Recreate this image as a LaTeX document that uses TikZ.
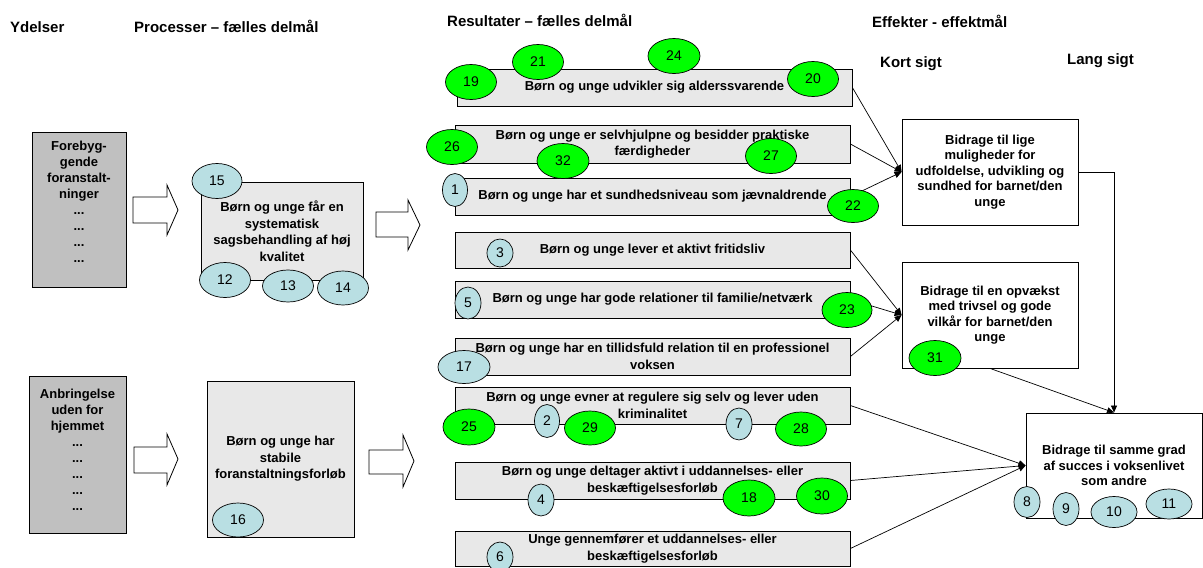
\documentclass[tikz,border=0pt]{standalone}
\usepackage{fontspec}
\setmainfont{Liberation Sans}
\usetikzlibrary{shapes.geometric,arrows.meta}
\definecolor{boxgray}{HTML}{E8E8E8}
\definecolor{ydgray}{HTML}{C0C0C0}
\definecolor{lblue}{HTML}{B9DFE3}
\definecolor{lgreen}{HTML}{00FF00}
\tikzset{
  hdr/.style={font=\bfseries\fontsize{15}{18}\selectfont, anchor=base west, inner sep=0},
  basebox/.style={draw=black, line width=0.8pt, inner sep=0, align=center, font=\bfseries\fontsize{13}{16.5}\selectfont},
  rbox/.style={basebox, fill=boxgray},
  ybox/.style={basebox, fill=ydgray},
  ebox/.style={basebox, fill=white, font=\bfseries\fontsize{13}{15.5}\selectfont},
  btext/.style={inner sep=0, align=center, font=\bfseries\fontsize{13}{16}\selectfont},
  ell/.style={ellipse, draw=black, line width=0.7pt, inner sep=0, font=\fontsize{14}{14}\selectfont},
  bl/.style={ell, fill=lblue},
  gr/.style={ell, fill=lgreen},
  conn/.style={draw=black, line width=0.7pt, -{Triangle[length=7pt,width=6pt]}},
  blockarrow/.style={draw=black, line width=0.8pt, fill=white}
}
\newcommand\ellnode[6]{\node[#1, minimum width=#5, minimum height=#6] (n#2) at (#3,#4) {#2};}
\begin{document}
\begin{tikzpicture}[x=1pt,y=-1pt]
\useasboundingbox (0,0) rectangle (1203,568);
% headers
\node[hdr] (hY) at (10,32) {Ydelser};
\node[hdr] (hP) at (134,32) {Processer – fælles delmål};
\node[hdr] (hR) at (447,26) {Resultater – fælles delmål};
\node[hdr] (hE) at (872,27) {Effekter - effektmål};
\node[hdr] (hK) at (880,67) {Kort sigt};
\node[hdr] (hL) at (1067,64) {Lang sigt};
% ydelser boxes
\node[ybox, minimum width=94, minimum height=155] (y1) at (79,209.5) {};
\node[btext] (y1t) at (79,202) {Forebyg-\\gende\\foranstalt-\\ninger\\...\\...\\...\\...};
\node[ybox, minimum width=97, minimum height=157] (y2) at (77.5,454.5) {};
\node[btext] (y2t) at (77.5,449.5) {Anbringelse\\uden for\\hjemmet\\...\\...\\...\\...\\...};
% block arrows
\path[blockarrow] (133,197) -- (167,197) -- (167,185) -- (178,210) -- (167,235) -- (167,223) -- (133,223) -- cycle;
\path[blockarrow] (134,447) -- (167,447) -- (167,434) -- (178,459) -- (167,485) -- (167,473) -- (134,473) -- cycle;
\path[blockarrow] (376,212) -- (408,212) -- (408,200) -- (420,225) -- (408,250) -- (408,237) -- (376,237) -- cycle;
\path[blockarrow] (369,450) -- (403,450) -- (403,435) -- (414,461) -- (403,487) -- (403,474) -- (369,474) -- cycle;
% process boxes
\node[rbox, minimum width=162, minimum height=98] (p1) at (282,231) {Børn og unge får en\\systematisk\\sagsbehandling af høj\\kvalitet};
\node[rbox, minimum width=147, minimum height=156] (p2) at (280.5,459) {Børn og unge har\\stabile\\foranstaltningsforløb};
% result boxes
\node[rbox, minimum width=395, minimum height=37] (r1) at (654.5,87.5) {Børn og unge udvikler sig alderssvarende};
\node[rbox, minimum width=395, minimum height=38] (r2) at (652.5,144) {Børn og unge er selvhjulpne og besidder praktiske\\færdigheder};
\node[rbox, minimum width=395, minimum height=37] (r3) at (652.5,196.5) {Børn og unge har et sundhedsniveau som jævnaldrende};
\node[rbox, minimum width=395, minimum height=36] (r4) at (652.5,250) {Børn og unge lever et aktivt fritidsliv};
\node[rbox, minimum width=395, minimum height=37] (r5) at (652.5,299.5) {Børn og unge har gode relationer til familie/netværk};
\node[rbox, minimum width=395, minimum height=37] (r6) at (652.5,356.5) {Børn og unge har en tillidsfuld relation til en professionel\\voksen};
\node[rbox, minimum width=395, minimum height=37] (r7) at (652.5,405.5) {Børn og unge evner at regulere sig selv og lever uden\\kriminalitet};
\node[rbox, minimum width=395, minimum height=37] (r8) at (652.5,480.5) {Børn og unge deltager aktivt i uddannelses- eller\\beskæftigelsesforløb};
\node[rbox, minimum width=395, minimum height=35] (r9) at (652.5,548.5) {Unge gennemfører et uddannelses- eller\\beskæftigelsesforløb};
% effect boxes
\node[ebox, minimum width=176, minimum height=106] (e1) at (990,172) {Bidrage til lige\\muligheder for\\udfoldelse, udvikling og\\sundhed for barnet/den\\unge};
\node[ebox, minimum width=176, minimum height=106] (e2) at (990,315) {Bidrage til en opvækst\\med trivsel og gode\\vilkår for barnet/den\\unge};
\node[ebox, minimum width=176, minimum height=105] (e3) at (1114,465.5) {Bidrage til samme grad\\af succes i voksenlivet\\som andre};
% connectors
\draw[conn] (r1.east) -- (e1.west);
\draw[conn] (r2.east) -- (e1.west);
\draw[conn] (r3.east) -- (e1.west);
\draw[conn] (r4.east) -- (e2.west);
\draw[conn] (r5.east) -- (e2.west);
\draw[conn] (r6.east) -- (e2.west);
\draw[conn] (r7.east) -- (e3.west);
\draw[conn] (r8.east) -- (e3.west);
\draw[conn] (r9.east) -- (e3.west);
\draw[conn] (e1.east) -| (e3.north);
\draw[conn] (e2.south) -- (e3.north);
% ellipses
\ellnode{bl}{15}{217}{181}{50}{35}
\ellnode{bl}{12}{225}{280}{51}{35}
\ellnode{bl}{13}{288}{286}{51}{32}
\ellnode{bl}{14}{343}{288}{51}{34}
\ellnode{bl}{16}{238}{520}{51}{34}
\ellnode{gr}{19}{471}{82}{51}{35}
\ellnode{gr}{21}{538}{62}{51}{35}
\ellnode{gr}{24}{674}{56}{52}{35}
\ellnode{gr}{20}{813}{79}{51}{35}
\ellnode{gr}{26}{452}{147}{51}{35}
\ellnode{gr}{32}{563}{161}{52}{35}
\ellnode{gr}{27}{771}{156}{51}{35}
\ellnode{bl}{1}{455}{190}{25}{33}
\ellnode{gr}{22}{853}{206}{51}{33}
\ellnode{bl}{3}{500}{253}{26}{28}
\ellnode{bl}{5}{468}{303}{26}{32}
\ellnode{gr}{23}{847}{310}{50}{35}
\ellnode{bl}{17}{464}{367}{52}{33}
\ellnode{gr}{25}{469}{427}{52}{36}
\ellnode{bl}{2}{547}{421}{25}{33}
\ellnode{gr}{29}{590}{428}{51}{34}
\ellnode{bl}{7}{739}{424}{26}{32}
\ellnode{gr}{28}{801}{429}{51}{34}
\ellnode{bl}{4}{541}{500}{26}{32}
\ellnode{gr}{18}{749}{498}{52}{36}
\ellnode{gr}{30}{822}{496}{51}{36}
\ellnode{bl}{6}{500}{557}{26}{30}
\ellnode{gr}{31}{935}{358}{52}{35}
\ellnode{bl}{8}{1027}{502}{26}{31}
\ellnode{bl}{9}{1066}{509}{26}{33}
\ellnode{bl}{10}{1114}{512}{46}{31}
\ellnode{bl}{11}{1169}{504}{46}{30}
\end{tikzpicture}
\end{document}
